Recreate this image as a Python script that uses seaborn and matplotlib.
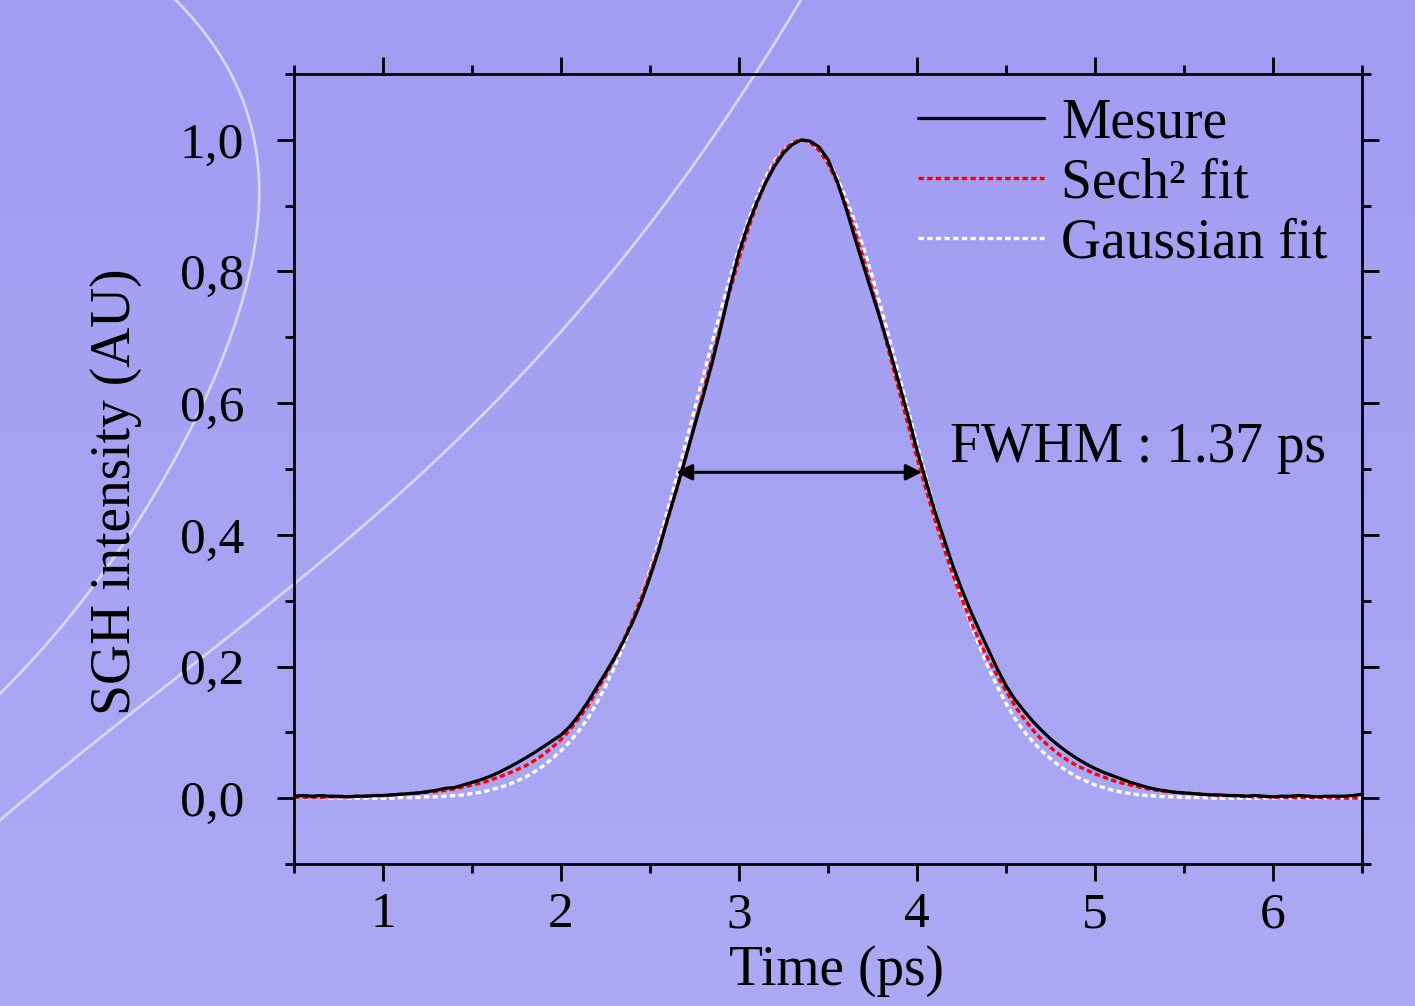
import numpy as np
import pandas as pd
import matplotlib
matplotlib.use("Agg")
import matplotlib.pyplot as plt
import seaborn as sns
from matplotlib.colors import LinearSegmentedColormap
from matplotlib.ticker import FixedLocator, FixedFormatter, MultipleLocator

# ---------------- data ----------------
time_ps = np.round(np.linspace(0.5, 6.5, 121), 2)

mesure = [
    0.003, 0.004, 0.003, 0.004, 0.003, 0.003, 0.002, 0.003, 0.003, 0.004,
    0.004, 0.005, 0.006, 0.007, 0.008, 0.010, 0.012, 0.015, 0.016, 0.020,
    0.024, 0.028, 0.033, 0.039, 0.046, 0.053, 0.061, 0.069, 0.078, 0.087,
    0.096, 0.109, 0.126, 0.146, 0.168, 0.190, 0.213, 0.238, 0.266, 0.298,
    0.336, 0.377, 0.425, 0.470, 0.517, 0.565, 0.612, 0.662, 0.717, 0.776,
    0.829, 0.870, 0.905, 0.935, 0.960, 0.980, 0.993, 1.000, 0.998, 0.989,
    0.970, 0.938, 0.897, 0.852, 0.808, 0.765, 0.722, 0.677, 0.629, 0.580,
    0.529, 0.482, 0.436, 0.395, 0.354, 0.318, 0.285, 0.255, 0.226, 0.197,
    0.171, 0.150, 0.133, 0.117, 0.103, 0.090, 0.079, 0.069, 0.060, 0.052,
    0.045, 0.039, 0.034, 0.029, 0.024, 0.020, 0.016, 0.013, 0.011, 0.009,
    0.008, 0.007, 0.006, 0.005, 0.005, 0.004, 0.004, 0.003, 0.004, 0.003,
    0.002, 0.003, 0.003, 0.004, 0.003, 0.002, 0.003, 0.003, 0.003, 0.004,
    0.006,
]

sech2_fit = [
    0.001, 0.001, 0.001, 0.001, 0.002, 0.002, 0.002, 0.003, 0.003, 0.004,
    0.004, 0.005, 0.006, 0.007, 0.008, 0.009, 0.010, 0.012, 0.014, 0.017,
    0.020, 0.023, 0.027, 0.032, 0.037, 0.043, 0.049, 0.057, 0.066, 0.077,
    0.089, 0.104, 0.121, 0.140, 0.163, 0.186, 0.211, 0.239, 0.270, 0.304,
    0.341, 0.381, 0.424, 0.469, 0.517, 0.567, 0.618, 0.670, 0.721, 0.771,
    0.819, 0.863, 0.902, 0.936, 0.964, 0.984, 0.996, 1.000, 0.996, 0.984,
    0.964, 0.936, 0.902, 0.863, 0.819, 0.771, 0.721, 0.670, 0.618, 0.567,
    0.517, 0.469, 0.424, 0.381, 0.341, 0.304, 0.270, 0.239, 0.211, 0.186,
    0.163, 0.140, 0.121, 0.104, 0.089, 0.077, 0.066, 0.057, 0.049, 0.043,
    0.037, 0.032, 0.027, 0.023, 0.020, 0.017, 0.014, 0.012, 0.010, 0.009,
    0.008, 0.007, 0.006, 0.005, 0.004, 0.004, 0.003, 0.003, 0.002, 0.002,
    0.002, 0.001, 0.001, 0.001, 0.001, 0.001, 0.001, 0.000, 0.000, 0.000,
    0.000,
]

gauss_fit = [
    0.000, 0.000, 0.000, 0.000, 0.000, 0.000, 0.000, 0.000, 0.000, 0.000,
    0.000, 0.000, 0.001, 0.001, 0.001, 0.002, 0.002, 0.003, 0.004, 0.005,
    0.007, 0.009, 0.012, 0.016, 0.020, 0.026, 0.032, 0.040, 0.049, 0.060,
    0.072, 0.086, 0.102, 0.121, 0.144, 0.170, 0.199, 0.231, 0.266, 0.305,
    0.347, 0.391, 0.438, 0.488, 0.538, 0.590, 0.642, 0.693, 0.743, 0.791,
    0.836, 0.876, 0.912, 0.943, 0.968, 0.985, 0.996, 1.000, 0.996, 0.985,
    0.968, 0.943, 0.912, 0.876, 0.836, 0.791, 0.743, 0.693, 0.642, 0.590,
    0.538, 0.488, 0.438, 0.391, 0.347, 0.305, 0.266, 0.231, 0.199, 0.170,
    0.144, 0.121, 0.102, 0.086, 0.072, 0.060, 0.049, 0.040, 0.032, 0.026,
    0.020, 0.016, 0.012, 0.009, 0.007, 0.005, 0.004, 0.003, 0.002, 0.002,
    0.001, 0.001, 0.001, 0.000, 0.000, 0.000, 0.000, 0.000, 0.000, 0.000,
    0.000, 0.000, 0.000, 0.000, 0.000, 0.000, 0.000, 0.000, 0.000, 0.000,
    0.000,
]

series_labels = ["Mesure", "Sech\u00b2 fit", "Gaussian fit"]
x_tick_values = [1, 2, 3, 4, 5, 6]
x_tick_labels = ["1", "2", "3", "4", "5", "6"]
y_tick_values = [0.0, 0.2, 0.4, 0.6, 0.8, 1.0]
y_tick_labels = ["0,0", "0,2", "0,4", "0,6", "0,8", "1,0"]
fwhm_left, fwhm_right, fwhm_level = 2.646, 4.028, 0.495
fwhm_text = "FWHM : 1.37 ps"
x_label = "Time (ps)"
y_label = "SGH intensity (AU)"

# ---------------- style ----------------
sns.set_theme(style="ticks")
plt.rcParams["font.family"] = ["Liberation Serif", "DejaVu Serif"]
plt.rcParams["axes.edgecolor"] = "black"
plt.rcParams["xtick.color"] = "black"
plt.rcParams["ytick.color"] = "black"
plt.rcParams["text.color"] = "black"
plt.rcParams["axes.labelcolor"] = "black"

FS = 40
FS_TICK = 37
W, H = 1415, 1006
fig = plt.figure(figsize=(W / 100, H / 100), dpi=100)

# background gradient + decorative curves
bg = fig.add_axes([0, 0, 1, 1], zorder=0)
cmap = LinearSegmentedColormap.from_list("bg", ["#A19CF2", "#ACAAF4"])
bg.imshow(np.linspace(0, 1, 256)[:, None], aspect="auto", cmap=cmap,
          extent=[0, W, H, 0])
ya = np.array([0, 67, 183, 233, 333, 397, 498, 585, 695])
xa = np.array([173, 233, 257, 253, 233, 207, 157, 89, 0])
pa = np.polyfit(ya, xa, 4)
yy = np.linspace(-20, 760, 400)
bg.plot(np.polyval(pa, yy), yy, color="#D6D6F8", lw=2.0)
xb = np.array([800, 720, 680, 630, 560, 515, 294, 0])
yb = np.array([0, 130, 183, 250, 332, 380, 585, 820])
pb = np.polyfit(xb, yb, 3)
xx = np.linspace(-20, 830, 400)
bg.plot(xx, np.polyval(pb, xx), color="#D6D6F8", lw=2.0)
bg.set_xlim(0, W)
bg.set_ylim(H, 0)
bg.axis("off")

# main axes
ax = fig.add_axes([294 / W, 1 - 864 / H, 1068 / W, 790 / H], zorder=1)
ax.patch.set_alpha(0)

df = pd.DataFrame({"time": time_ps, "mesure": mesure,
                   "sech2": sech2_fit, "gauss": gauss_fit})

sns.lineplot(data=df, x="time", y="gauss", ax=ax, color="white", lw=2.4,
             linestyle=(0, (1.6, 1.0)), label=series_labels[2])
sns.lineplot(data=df, x="time", y="sech2", ax=ax, color="#FF0000", lw=2.4,
             linestyle=(0, (1.6, 1.0)), label=series_labels[1])
sns.lineplot(data=df, x="time", y="mesure", ax=ax, color="black", lw=2.3,
             label=series_labels[0])

ax.set_xlim(0.5, 6.5)
ax.set_ylim(-0.1, 1.1)

ax.xaxis.set_major_locator(FixedLocator(x_tick_values))
ax.xaxis.set_major_formatter(FixedFormatter(x_tick_labels))
ax.xaxis.set_minor_locator(MultipleLocator(0.5))
ax.yaxis.set_major_locator(FixedLocator(y_tick_values))
ax.yaxis.set_major_formatter(FixedFormatter(y_tick_labels))
ax.yaxis.set_minor_locator(MultipleLocator(0.1))

for s in ax.spines.values():
    s.set_linewidth(2.0)
    s.set_color("black")
ax.tick_params(which="both", direction="out", top=True, right=True,
               labeltop=False, labelright=False, width=2.0, color="black")
ax.tick_params(which="major", length=12)
ax.tick_params(which="minor", length=6.5)
ax.tick_params(axis="y", which="major", pad=24, labelsize=FS_TICK)
ax.tick_params(axis="x", which="major", pad=8, labelsize=FS_TICK)

ax.set_xlabel(x_label, fontsize=FS)
ax.set_ylabel(y_label, fontsize=FS)
ax.xaxis.set_label_coords(0.508, -0.103)
ax.yaxis.set_label_coords(-0.142, 0.471)

# FWHM arrow and text
ax.annotate("", xy=(fwhm_left, fwhm_level), xytext=(fwhm_right, fwhm_level),
            arrowprops=dict(arrowstyle="<|-|>", color="black", lw=2.2,
                            mutation_scale=24, shrinkA=0, shrinkB=0))
ax.text(4.185, 0.511, fwhm_text, fontsize=FS, ha="left", va="baseline")

# legend
handles, labels = ax.get_legend_handles_labels()
order = [labels.index(l) for l in series_labels]
leg = ax.legend([handles[i] for i in order], [labels[i] for i in order],
                loc="upper left", bbox_to_anchor=(0.584, 0.970),
                frameon=False, fontsize=FS, handlelength=2.28,
                handletextpad=0.3, labelspacing=0.14, borderpad=0,
                borderaxespad=0)

fig.savefig("out.png", dpi=100)
